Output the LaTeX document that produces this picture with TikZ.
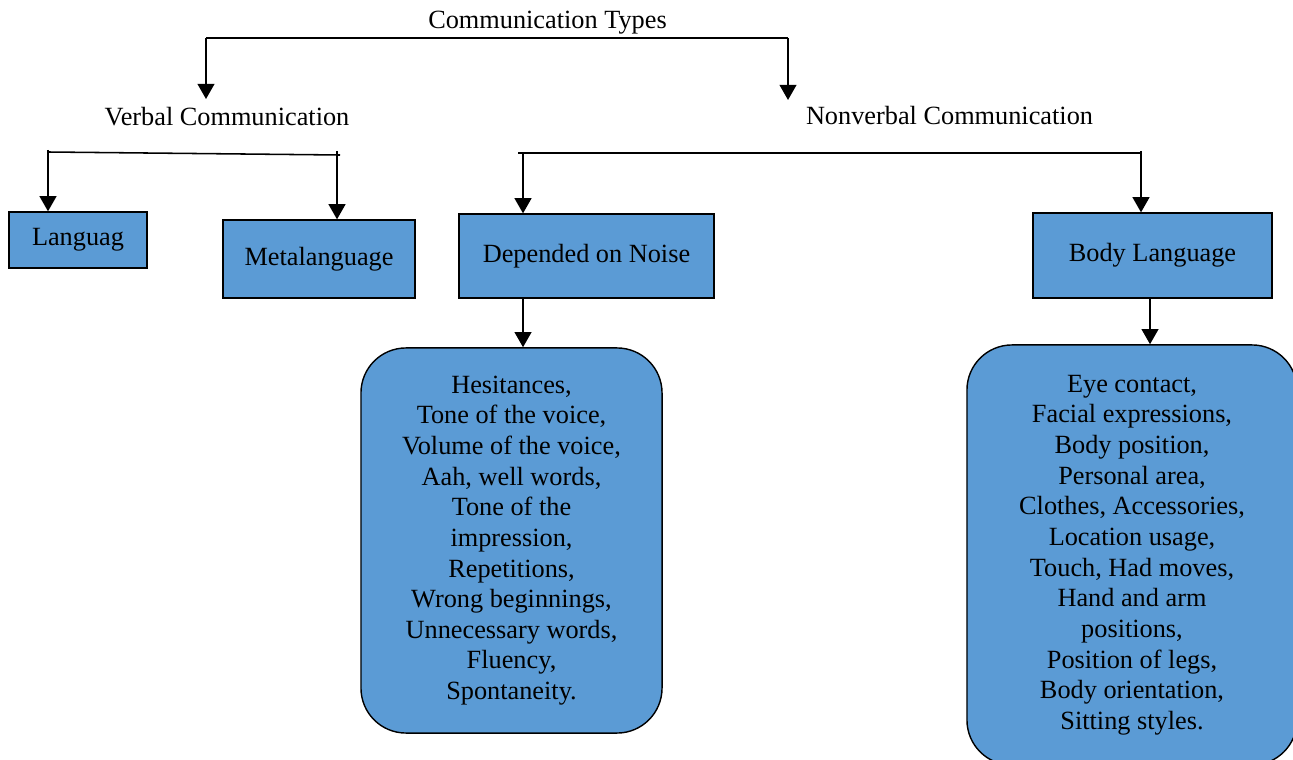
\documentclass[tikz,border=0pt]{standalone}
\usepackage{fontspec}
\setmainfont{Liberation Serif}
\usetikzlibrary{positioning}
\usetikzlibrary{arrows.meta}
\definecolor{boxblue}{HTML}{5B9BD5}
\tikzset{arr/.style = {-{Triangle[width=0.42cm,length=0.38cm]}, line width=1.4pt}}
\tikzset{box/.style = {draw, fill=boxblue, line width=0.9pt, inner sep=0}}
\tikzset{listbox/.style = {box, rounded corners=1.125cm, align=center, line width=1pt}}
\tikzset{lbl/.style = {inner sep=0}}

\begin{document}
\begin{tikzpicture}[x=0.025cm, y=-0.025cm, font=\fontsize{18.7}{21.8}\selectfont]
    \useasboundingbox (0,0) rectangle (1293,760);

    % Headings
    \node [lbl] (types) at (547.5,23) {Communication Types};
    \node [lbl] (verbal) at (227,117) {Verbal Communication};
    \node [lbl] (nonverbal) at (949.5,116) {Nonverbal Communication};

    % Boxes
    \node [box, minimum width=3.45cm, minimum height=1.4cm] (lang) at (78,240) {Languag};
    \node [box, minimum width=4.8cm, minimum height=1.95cm] (meta) at (319,259) {Metalanguage};
    \node [box, minimum width=6.375cm, minimum height=2.1cm] (noise) at (586.5,256) {Depended on Noise};
    \node [box, minimum width=5.975cm, minimum height=2.125cm] (body) at (1152.5,255.5) {Body Language};

    \node [listbox, minimum width=7.525cm, minimum height=9.625cm] (noiselist) at (511.5,540.5)
        {Hesitances,\\ Tone of the voice,\\ Volume of the voice,\\ Aah, well words,\\ Tone of the\\ impression,\\
         Repetitions,\\ Wrong beginnings,\\ Unnecessary words,\\ Fluency,\\ Spontaneity.};
    \node [listbox, minimum width=8.25cm, minimum height=10.5cm] (bodylist) at (1132,555)
        {Eye contact,\\ Facial expressions,\\ Body position,\\ Personal area,\\ Clothes, Accessories,\\ Location usage,\\
         Touch, Had moves,\\ Hand and arm\\ positions,\\ Position of legs,\\ Body orientation,\\ Sitting styles.};

    % Brackets
    \coordinate (tl) at (206,38);
    \coordinate (tr) at (788,38);
    \coordinate (vl) at (48,150);
    \coordinate (vr) at (337,151);
    \coordinate (nl) at (523,153);
    \coordinate (nr) at (1141,151);

    \draw [line width=0.9pt] (tl) -- (tr);
    \draw [arr] (tl) -- (206,99);
    \draw [arr] (tr) -- (788,100);

    \draw [line width=1.1pt] (48,152) -- (340,155);
    \draw [arr] (vl) -- (vl |- lang.north);
    \draw [arr] (vr) -- (meta.north -| vr);

    \draw [line width=1.7pt] (518,153) -- (1141,153);
    \draw [arr] (nl) -- (nl |- noise.north);
    \draw [arr] (nr) -- (nr |- body.north);

    \draw [arr] (noise.south -| nl) -- (noiselist.north -| nl);
    \draw [arr] (body.south -| 1150,0) -- (bodylist.north -| 1150,0);
\end{tikzpicture}
\end{document}
